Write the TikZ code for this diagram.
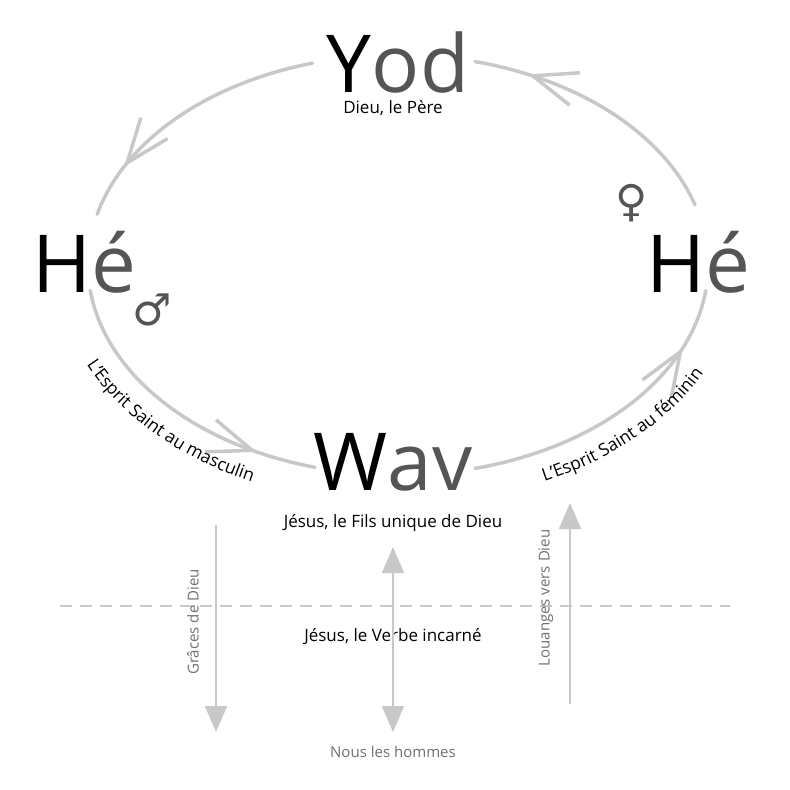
\documentclass[tikz,border=0pt]{standalone}
\usepackage{fontspec}
\setmainfont{Open Sans}
\newfontfamily\symfont{DejaVu Sans}
\usetikzlibrary{arrows.meta,decorations.markings,decorations.text}
\definecolor{ringGray}{HTML}{C8C8C8}
\definecolor{letterGray}{HTML}{555555}
\definecolor{noteGray}{HTML}{707070}
\begin{document}
\begin{tikzpicture}
[x=1pt,y=-1pt,
  ringDecorate/.style={draw=ringGray,line width=3.5pt,line cap=round,
    decoration={markings,mark=at position 0.8 with
      {\arrow[ringGray,line width=3.5pt]{Straight Barb[length=44pt,width=34pt]}}},
    postaction={decorate}},
  bigName/.style={font=\fontsize{80}{80}\selectfont,inner sep=0pt},
  smallName/.style={font=\fontsize{17}{20}\selectfont,inner sep=0pt},
  noteText/.style={font=\fontsize{15}{18}\selectfont,text=noteGray,inner sep=0pt},
  flowArrow/.style={draw=ringGray,line width=2pt,
    -{Triangle[length=26pt,width=22pt]}},
  curvedText/.style={decorate,decoration={text along path,
    text align=center,text={|\fontsize{17.5}{20}\selectfont|#1}}}]
\useasboundingbox (0,0) rectangle (790,790);
%% the four letters
\node (yod) at (398,62) [bigName] {Y\textcolor{letterGray}{od}};
\node (heL) at (84,262) [bigName] {H\textcolor{letterGray}{é}};
\node (heR) at (698,262) [bigName] {H\textcolor{letterGray}{é}};
\node (wav) at (393,462) [bigName] {W\textcolor{letterGray}{av}};
\node (pere) at (393,108) [smallName] {Dieu, le Père};
\node (fils) at (393,523) [smallName] {Jésus, le Fils unique de Dieu};
\node (verbe) at (393,637) [smallName] {Jésus, le Verbe incarné};
\node (hommes) at (393,752) [noteText] {Nous les hommes};
\node (male) at (152,310) [font=\symfont\fontsize{44}{44}\selectfont,text=letterGray] {♂};
\node (female) at (632,203) [font=\symfont\fontsize{44}{44}\selectfont,text=letterGray] {♀};
%% the ring
\foreach \a/\b in {-106/-166, 173/105.5, 75.6/7, -16.6/-75.6}
{
  \path[ringDecorate] ([shift={(398,265)}]\a:310 and 210)
    arc[start angle=\a,end angle=\b,x radius=310,y radius=210];
}
%% curved labels
\path[curvedText={L’Esprit Saint au masculin}] ([shift={(398,265)}]165:342 and 240)
  arc[start angle=165,end angle=108,x radius=342,y radius=240];
\path[curvedText={L’Esprit Saint au féminin}] ([shift={(398,265)}]73:342 and 240)
  arc[start angle=73,end angle=16,x radius=342,y radius=240];
%% below Wav
\coordinate (gTop) at (216,525);
\coordinate (gBot) at (216,732);
\coordinate (mTop) at (393,547);
\coordinate (mBot) at (393,732);
\coordinate (lTop) at (570,503);
\coordinate (lBot) at (570,704);
\coordinate (dashL) at (60,606);
\coordinate (dashR) at (730,606);
\draw[ringGray,line width=1.5pt,dash pattern=on 12pt off 8pt] (dashL) -- (dashR);
\draw[flowArrow] (gTop) -- (gBot);
\draw[flowArrow,{Triangle[length=26pt,width=22pt]}-{Triangle[length=26pt,width=22pt]}] (mTop) -- (mBot);
\draw[flowArrow] (lBot) -- (lTop);
\node (graces) at (193,622) [noteText,rotate=90] {Grâces de Dieu};
\node (louanges) at (546,598) [noteText,rotate=90] {Louanges vers Dieu};
\end{tikzpicture}
\end{document}
